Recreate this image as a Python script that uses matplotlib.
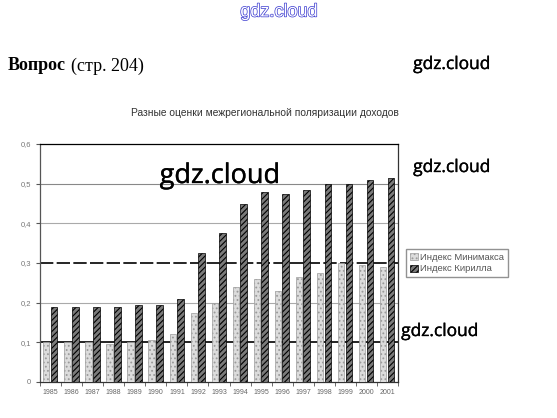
import numpy as np
import matplotlib
matplotlib.use("Agg")
import matplotlib.pyplot as plt
import matplotlib.patheffects as pe

years = ["1985", "1986", "1987", "1988", "1989", "1990", "1991", "1992", "1993",
         "1994", "1995", "1996", "1997", "1998", "1999", "2000", "2001"]
index_min = [0.10, 0.10, 0.10, 0.095, 0.10, 0.105, 0.12, 0.175, 0.20,
             0.24, 0.26, 0.23, 0.265, 0.275, 0.30, 0.295, 0.29]
index_kir = [0.19, 0.19, 0.19, 0.19, 0.195, 0.195, 0.21, 0.325, 0.375,
             0.45, 0.48, 0.475, 0.485, 0.50, 0.50, 0.51, 0.515]
series_names = ["Индекс Минимакса", "Индекс Кирилла"]
y_ticks = [0, 0.1, 0.2, 0.3, 0.4, 0.5, 0.6]
y_labels = ["0", "0,1", "0,2", "0,3", "0,4", "0,5", "0,6"]
chart_title = "Разные оценки межрегиональной поляризации доходов"

plt.rcParams['font.family'] = ['Liberation Sans', 'DejaVu Sans']
plt.rcParams['hatch.linewidth'] = 0.8

fig = plt.figure(figsize=(5.57, 4.18), dpi=100)
ax = fig.add_axes([40 / 557, 36 / 418, 358 / 557, 238 / 418])

x = np.arange(len(years)) + 0.5
ax.bar(x - 0.2, index_min, width=0.3, color="#dcdcdc", edgecolor="#9a9a9a",
       hatch="....", linewidth=0.5, label=series_names[0], zorder=3)
ax.bar(x + 0.17, index_kir, width=0.32, color="#7a7a7a", edgecolor="black",
       hatch="//////", linewidth=0.5, label=series_names[1], zorder=3)

# gridlines (0.1 and 0.3 come out dark on the scan)
grid_cols = {0.1: "black", 0.2: "#aaaaaa", 0.3: "black", 0.4: "#aaaaaa", 0.5: "#888888"}
for v, c in grid_cols.items():
    ax.axhline(v, color=c, lw=1.2 if c == "black" else 0.8,
               ls=(0, (8, 2)) if v == 0.3 else "-", zorder=1)

ax.set_xlim(0, len(years))
ax.set_ylim(0, 0.6)
ax.set_yticks(y_ticks)
ax.set_yticklabels(y_labels, fontsize=5.5, color="#777777")
ax.set_xticks(x)
ax.set_xticklabels(years, fontsize=5, color="#666666")
ax.set_xticks(np.arange(len(years) + 1), minor=True)
ax.tick_params(axis="x", which="major", length=0, pad=5)
ax.tick_params(axis="x", which="minor", length=3, color="#555555")
ax.tick_params(axis="y", length=3, color="#555555")
ax.spines["left"].set_color("#555555")
ax.spines["bottom"].set_color("#333333")
ax.spines["top"].set_color("black")
ax.spines["right"].set_color("#333333")
for s in ax.spines.values():
    s.set_linewidth(0.9)

leg = ax.legend(loc="center left", bbox_to_anchor=(1.01, 0.5), fontsize=6.8,
                frameon=True, fancybox=False, edgecolor="#777777",
                handlelength=0.8, handleheight=0.8, handletextpad=0.3,
                borderpad=0.4, labelspacing=0.3)
for t in leg.get_texts():
    t.set_color("#555555")

fig.text(265 / 557, 1 - 113 / 418, chart_title, fontsize=7.4, ha="center",
         va="center", color="#333333")

# page header
fig.text(279 / 557, 1 - 12 / 418, "gdz.cloud", fontsize=13, ha="center",
         va="center", color="white",
         path_effects=[pe.withStroke(linewidth=1.0, foreground="#3a3ad0")])
fig.text(8 / 557, 1 - 66 / 418, "Вопрос", fontsize=13, fontweight="bold",
         family="Liberation Serif", ha="left", va="center")
fig.text(71 / 557, 1 - 66 / 418, "(стр. 204)", fontsize=13,
         family="Liberation Serif", ha="left", va="center")

# watermarks
for wx, wy, fs in [(452, 65, 12.5), (452, 168, 12.5), (220, 176, 19.5), (440, 332, 12.5)]:
    fig.text(wx / 557, 1 - wy / 418, "gdz.cloud", fontsize=fs, ha="center",
             va="center", family="Open Sans", color="black", zorder=10,
             path_effects=[pe.withStroke(linewidth=0.25, foreground="black")])

fig.savefig("out.png", dpi=100)
